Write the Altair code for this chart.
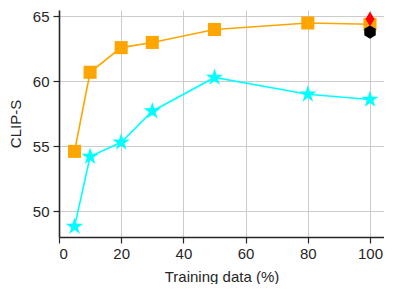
import altair as alt
import pandas as pd

x_vals = [5, 10, 20, 30, 50, 80, 100]
orange_vals = [54.6, 60.7, 62.6, 63.0, 64.0, 64.5, 64.4]
cyan_vals = [48.8, 54.2, 55.3, 57.7, 60.3, 59.0, 58.6]
red_point = [100, 64.8]
black_point = [100, 63.8]

df_o = pd.DataFrame({"x": x_vals, "y": orange_vals})
df_c = pd.DataFrame({"x": x_vals, "y": cyan_vals})
df_r = pd.DataFrame({"x": [red_point[0]], "y": [red_point[1]]})
df_b = pd.DataFrame({"x": [black_point[0]], "y": [black_point[1]]})

xs = alt.Scale(domain=[0, 104.5], nice=False, zero=False)
ys = alt.Scale(domain=[48.0, 65.5], nice=False, zero=False)

xax = alt.Axis(values=[0, 20, 40, 60, 80, 100], title="Training data (%)", format="d")
yax = alt.Axis(values=[50, 55, 60, 65], title="CLIP-S", format="d")

X = alt.X("x:Q", scale=xs, axis=xax)
Y = alt.Y("y:Q", scale=ys, axis=yax)

starpath = ("M0,-1 L0.2245,-0.309 L0.951,-0.309 L0.363,0.118 L0.588,0.809 "
            "L0,0.382 L-0.588,0.809 L-0.363,0.118 L-0.951,-0.309 L-0.2245,-0.309 Z")
hexpath = "M0,-1 L0.866,-0.5 L0.866,0.5 L0,1 L-0.866,0.5 L-0.866,-0.5 Z"
diapath = "M0,-1 L0.6,0 L0,1 L-0.6,0 Z"

o_line = alt.Chart(df_o).mark_line(color="#FFA500", strokeWidth=1.6).encode(x=X, y=Y)
o_pts = alt.Chart(df_o).mark_point(shape="square", filled=True, opacity=1, color="#FFA500", size=170).encode(x=X, y=Y)
c_line = alt.Chart(df_c).mark_line(color="#00FFFF", strokeWidth=1.6).encode(x=X, y=Y)
c_pts = alt.Chart(df_c).mark_point(shape=starpath, filled=True, opacity=1, color="#00FFFF", size=330).encode(x=X, y=Y)
b_pt = alt.Chart(df_b).mark_point(shape=hexpath, filled=True, opacity=1, color="black", size=175).encode(x=X, y=Y)
r_pt = alt.Chart(df_r).mark_point(shape=diapath, filled=True, opacity=1, color="red", size=225).encode(x=X, y=Y)

chart = alt.layer(o_line, o_pts, c_line, c_pts, b_pt, r_pt).properties(
    width=325, height=227,
    padding={"left": 0, "top": 1, "right": 0, "bottom": 0},
).configure_view(stroke=None).configure_axis(
    grid=True, gridColor="#cccccc", gridWidth=1,
    domainColor="#262626", domainWidth=1.6,
    tickColor="#262626", tickSize=6, tickWidth=1.2,
    labelFont="Liberation Sans", labelFontSize=15, labelColor="#262626", labelPadding=4,
    titleFont="Liberation Sans", titleFontSize=15, titleFontWeight="normal", titleColor="#262626",
).configure_axisY(titlePadding=9).configure_axisX(titlePadding=8, labelPadding=3)

chart.save("out.html", embed_options={"renderer": "svg", "actions": False})
